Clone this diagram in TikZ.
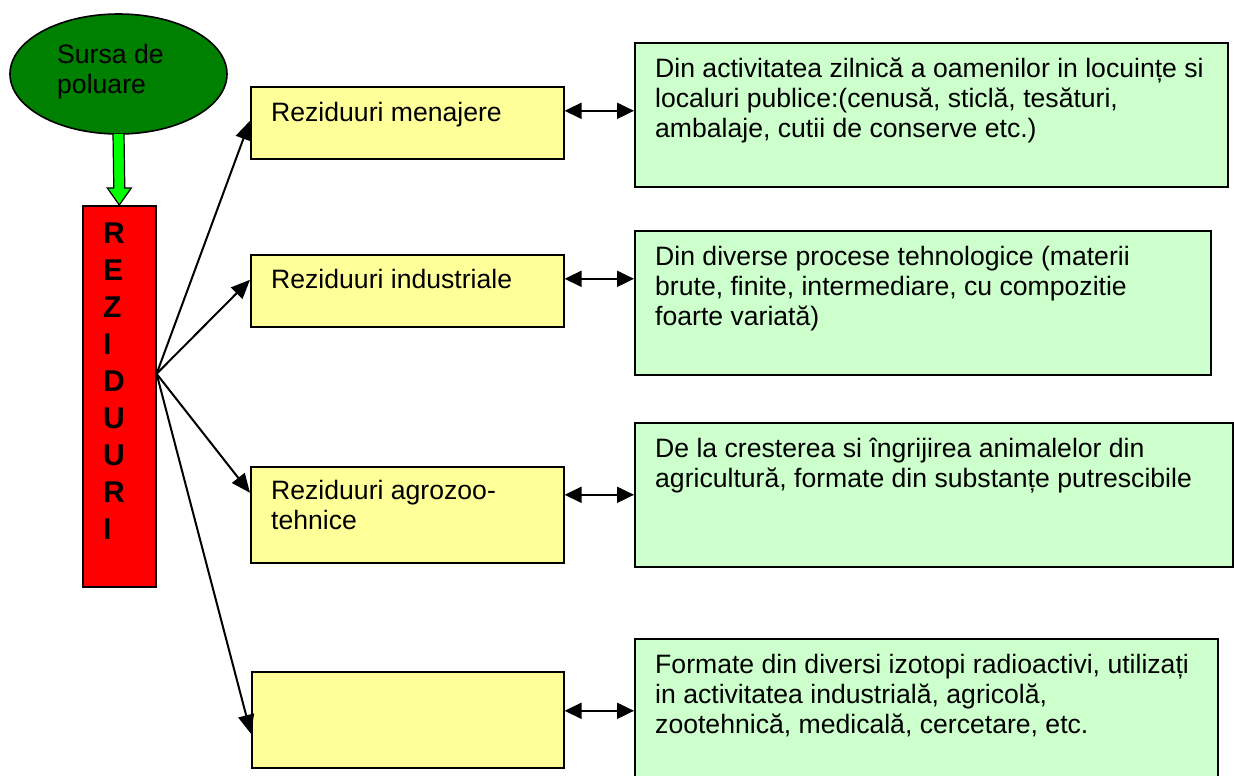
\documentclass[tikz,border=0pt]{standalone}
\usepackage{fontspec}
\setmainfont{Liberation Sans}
\usepackage{tikz}
\usetikzlibrary{calc,shapes.geometric,arrows.meta}
\usepackage{xcolor}

\definecolor{dkgreen}{RGB}{0,128,0}
\definecolor{lgreen}{RGB}{0,255,0}
\definecolor{ylw}{RGB}{255,255,153}
\definecolor{mint}{RGB}{204,255,204}

\begin{document}
\begin{tikzpicture}
[x=1pt,y=-1pt,
ybox/.style={draw,fill=ylw,line width=1.6pt,anchor=north west,inner sep=0pt,minimum width=313pt},
dbox/.style={draw,fill=mint,line width=1.6pt,anchor=north west,inner sep=0pt,minimum height=144pt},
txt/.style={anchor=north west,inner sep=0pt,align=left,font=\fontsize{26.6pt}{30pt}\selectfont,execute at begin node=\strut},
link/.style={line width=2pt},
tip/.style={-{Triangle[length=19pt,width=16pt]}},
tips/.style={{Triangle[length=17pt,width=16pt]}-{Triangle[length=17pt,width=16pt]}},]

\useasboundingbox (0,0) rectangle (1234,776);

%Source and red column
\node (src) at (118.5,74)[ellipse,draw,fill=dkgreen,line width=1.6pt,inner sep=0pt,minimum width=217pt,minimum height=120pt] {};
\node (srct) at (57,44)[txt] {Sursa de\\poluare};
\node (rez) at (82,205)[draw,fill=red,line width=1.6pt,anchor=north west,inner sep=0pt,minimum width=73pt,minimum height=381pt] {};
\node (rezt) at (103,223)[anchor=north west,inner sep=0pt,align=left,font=\fontsize{30pt}{36.9pt}\selectfont\bfseries,execute at begin node=\strut] {R\\E\\Z\\I\\D\\U\\U\\R\\I};

%Green block arrow
\draw[fill=lgreen,line width=1.2pt] ($(src.south)+(5.5,-1)$) -- ($(rez.north)+(5.5,-17)$) -- ($(rez.north)+(12,-17)$) -- (rez.north)
  -- ($(rez.north)+(-12,-17)$) -- ($(rez.north)+(-5.5,-17)$) -- ($(src.south)+(-5.5,-1)$);

%Kinds of waste
\node (m1) at (250,86)[ybox,minimum height=72pt] {};
\node (m2) at (250,254)[ybox,minimum height=72pt] {};
\node (m3) at (250,466)[ybox,minimum height=96pt] {};
\node (m4) at (251,671)[ybox,minimum width=312pt,minimum height=96pt] {};
\node (m1t) at (271,100)[txt] {Reziduuri menajere};
\node (m2t) at (271,267)[txt] {Reziduuri industriale};
\node (m3t) at (271,480)[txt] {Reziduuri agrozoo-\\tehnice};

%Descriptions
\node (d1) at (634,42)[dbox,minimum width=593pt] {};
\node (d2) at (634,230)[dbox,minimum width=576pt] {};
\node (d3) at (634,422)[dbox,minimum width=598pt] {};
\node (d4) at (634,638)[dbox,minimum width=583pt,minimum height=152pt] {};
\node (d1t) at (655,58)[txt] {Din activitatea zilnică a oamenilor in locuințe si\\localuri publice:(cenusă, sticlă, tesături,\\ambalaje, cutii de conserve etc.)};
\node (d2t) at (655,246)[txt] {Din diverse procese tehnologice (materii\\brute, finite, intermediare, cu compozitie\\foarte variată)};
\node (d3t) at (655,438)[txt] {De la cresterea si îngrijirea animalelor din\\agricultură, formate din substanțe putrescibile};
\node (d4t) at (655,654)[txt] {Formate din diversi izotopi radioactivi, utilizați\\in activitatea industrială, agricolă,\\zootehnică, medicală, cercetare, etc.};

%Fan of arrows
\coordinate (fan) at ([yshift=22.5pt]rez.east);
\draw[link,tip] (fan) -- ([yshift=2pt]m1.west);
\draw[link,tip] (fan) -- ([yshift=11pt]m2.west);
\draw[link,tip] (fan) -- ([yshift=22pt]m3.west);
\draw[link,tip] (fan) -- ([yshift=-14pt]m4.west);

%Double arrows
\draw[link,tips] ([yshift=12pt]m1.east) -- ([yshift=12pt]m1.east -| d1.west);
\draw[link,tips] ([yshift=12pt]m2.east) -- ([yshift=12pt]m2.east -| d2.west);
\draw[link,tips] ([yshift=20pt]m3.east) -- ([yshift=20pt]m3.east -| d3.west);
\draw[link,tips] ([yshift=9pt]m4.east) -- ([yshift=9pt]m4.east -| d4.west);

\end{tikzpicture}
\end{document}
